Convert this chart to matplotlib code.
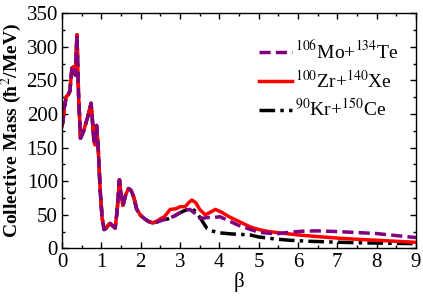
import matplotlib
matplotlib.use("Agg")
import matplotlib.pyplot as plt
from matplotlib.ticker import MultipleLocator

plt.rcParams['font.family'] = ['Liberation Serif', 'DejaVu Serif']
plt.rcParams['mathtext.fontset'] = 'stix'

# shared part (0 .. 2.3)
x_common = [0.0, 0.025, 0.06, 0.11, 0.16, 0.2, 0.25, 0.29, 0.32, 0.34, 0.38, 0.42, 0.47,
            0.55, 0.65, 0.74, 0.78, 0.81, 0.84, 0.88, 0.92, 0.97, 1.02, 1.07, 1.12,
            1.17, 1.22, 1.28, 1.35, 1.40, 1.46, 1.50, 1.55, 1.62, 1.69, 1.76, 1.83,
            1.90, 2.0, 2.1, 2.2, 2.3]
y_common = [182, 190, 210, 226, 229, 234, 268, 270, 266, 258, 318, 230, 164,
            175, 195, 216, 185, 161, 154, 183, 150, 87, 45, 28, 30,
            34, 37, 34, 30, 55, 102, 80, 64, 80, 89, 86, 75,
            58, 49, 44, 40, 38]

x_mo_tail = [2.4, 2.55, 2.7, 2.85, 3.0, 3.15, 3.25, 3.38, 3.5, 3.6, 3.7, 3.85, 4.02,
             4.2, 4.5, 4.75, 5.0, 5.25, 5.5, 5.8, 6.1, 6.5, 7.0, 7.5, 8.0, 8.5, 9.0]
y_mo_tail = [39, 42, 44, 48, 53, 57, 58, 52, 45, 45, 46, 46, 47,
             42, 34, 29, 24, 22.5, 22, 24, 25.5, 26, 25, 23.5, 22, 19, 16]

x_zr_tail = [2.4, 2.5, 2.6, 2.75, 2.9, 3.0, 3.13, 3.22, 3.3, 3.4, 3.5, 3.64, 3.78, 3.9,
             4.05, 4.25, 4.5, 4.78, 5.0, 5.25, 5.54, 6.0, 6.5, 7.07, 7.5, 8.0, 8.5, 9.0]
y_zr_tail = [40, 44, 47, 58, 59, 62, 62, 68, 72, 68, 58, 50, 54, 58,
             54, 47, 40, 32, 28, 25, 23, 20, 17.5, 15, 13.5, 12, 10.5, 9]

x_kr_tail = [2.4, 2.55, 2.7, 2.85, 3.0, 3.15, 3.3, 3.42, 3.55, 3.68, 3.8, 4.02,
             4.3, 4.78, 5.0, 5.4, 5.8, 6.3, 7.07, 7.8, 8.4, 9.0]
y_kr_tail = [39, 42, 44, 48, 53, 57, 59, 54, 42, 30, 26, 23,
             21.5, 20, 17, 14, 12, 10.5, 9, 8, 7.5, 7]

x_mo = x_common + x_mo_tail
y_mo = y_common + y_mo_tail
x_zr = x_common + x_zr_tail
y_zr = y_common + y_zr_tail
x_kr = x_common + x_kr_tail
y_kr = y_common + y_kr_tail

labels = [r'$^{106}$Mo+$^{134}$Te', r'$^{100}$Zr+$^{140}$Xe', r'$^{90}$Kr+$^{150}$Ce']

fig = plt.figure(figsize=(4.23, 2.96), dpi=100)
ax = fig.add_axes([0.1466, 0.161, 0.8369, 0.794])

l3, = ax.plot(x_kr, y_kr, color='black', lw=2.5, linestyle=(0, (4.5, 1.5, 1.0, 1.5)))
l2, = ax.plot(x_zr, y_zr, color='#ff0000', lw=2.5)
l1, = ax.plot(x_mo, y_mo, color='#800080', lw=2.5, linestyle=(0, (3.2, 1.5)))

ax.set_xlim(0, 9)
ax.set_ylim(0, 350)
ax.xaxis.set_major_locator(MultipleLocator(1))
ax.xaxis.set_minor_locator(MultipleLocator(0.5))
ax.yaxis.set_major_locator(MultipleLocator(50))
ax.yaxis.set_minor_locator(MultipleLocator(25))
ax.tick_params(which='both', direction='in', top=True, right=True, labelsize=15)
ax.tick_params(which='major', length=4, width=1, pad=3)
ax.tick_params(which='minor', length=2.5, width=1)
for s in ax.spines.values():
    s.set_linewidth(1)

ax.set_xlabel('β', fontsize=15, labelpad=0)
ax.set_ylabel('Collective Mass (ħ$^2$/MeV)', fontsize=14, fontweight='bold')
ax.yaxis.set_label_coords(-0.107, 0.5)

ax.legend([l1, l2, l3], labels, loc='upper right', frameon=False, fontsize=14,
          handlelength=1.7, handletextpad=0.15, labelspacing=0.35,
          bbox_to_anchor=(1.0, 0.96))

fig.savefig('out.png', dpi=100)
